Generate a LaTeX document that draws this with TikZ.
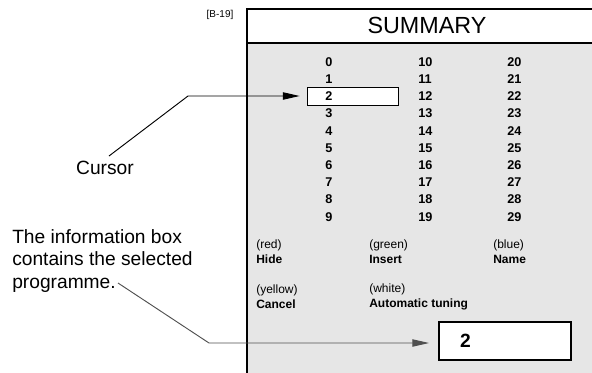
\documentclass[tikz,border=0pt]{standalone}
\usepackage{fontspec}
\setmainfont{Liberation Sans}
\usetikzlibrary{arrows.meta}
\definecolor{panelgray}{HTML}{E6E6E6}
\definecolor{leadgray}{HTML}{505050}

\begin{document}
\begin{tikzpicture}[x=0.75pt,y=-0.75pt,
    num/.style={anchor=west, inner sep=0pt, font=\fontsize{9.5}{11}\selectfont\bfseries},
    key/.style={anchor=west, inner sep=0pt, align=left, font=\fontsize{9}{11.25}\selectfont},
    note/.style={inner sep=0pt, align=left, font=\fontsize{14.4}{16.9}\selectfont},
    lead/.style={line width=0.7pt},
    ptr/.style={lead, -{Triangle[length=12.5pt,width=5.5pt]}}]
    \useasboundingbox (0,0) rectangle (592,372);

    % screen panel
    \fill[white] (247,9) rectangle (600,43);
    \fill[panelgray] (247,43) rectangle (600,380);
    \draw[line width=1.5pt] (247,380) -- (247,9) -- (600,9);
    \draw[line width=1.5pt] (247,43) -- (600,43);
    \node[font=\fontsize{17.5}{20}\selectfont] (title) at (427,25) {SUMMARY};
    \node[font=\fontsize{7.5}{9}\selectfont] (ref) at (220,15) {[B-19]};

    % cursor box goes under the numbers
    \node[draw, fill=white, line width=0.6pt, inner sep=0pt,
          minimum width=68.25pt, minimum height=13.5pt] (cursorbox) at (352.5,96) {};

    \foreach \r in {0,...,9}{
        \pgfmathtruncatemacro{\mid}{\r+10}
        \pgfmathtruncatemacro{\high}{\r+20}
        \node[num] (n\r) at (325,62+17.2*\r) {\r};
        \node[num] (n\mid) at (418,62+17.2*\r) {\mid};
        \node[num] (n\high) at (507,62+17.2*\r) {\high};
    }

    % colour keys
    \node[key] (red) at (256,251.5) {(red)\\\textbf{Hide}};
    \node[key] (green) at (369,251.5) {(green)\\\textbf{Insert}};
    \node[key] (blue) at (493,251.5) {(blue)\\\textbf{Name}};
    \node[key] (yellow) at (256,297) {(yellow)\\\textbf{Cancel}};
    \node[key] (white) at (369,297) {(white)\\\textbf{Automatic tuning}};

    % information box
    \node[draw, fill=white, line width=1.5pt, inner xsep=15.75pt, inner ysep=0pt,
          minimum width=99pt, minimum height=28.5pt, text width=67.5pt, align=left,
          font=\fontsize{14.4}{16}\selectfont\bfseries] (infobox) at (505,341) {2};

    % callouts
    \node[note] (cursorlbl) at (105,168) {Cursor};
    \node[note, anchor=west] (infotext) at (12,261) {The information box\\contains the selected\\programme.};
    \coordinate (curend) at (109,156);
    \coordinate (curbend) at (188,96);
    \coordinate (infoend) at (118,283);
    \coordinate (infobend) at (209,343);
    \draw[ptr] (curend) -- (curbend) -- ([xshift=-5.25pt]cursorbox.west);
    \draw[ptr, leadgray] (infoend) -- (infobend) -- ([xshift=-6.75pt]infobox.west |- infobend);
\end{tikzpicture}
\end{document}
